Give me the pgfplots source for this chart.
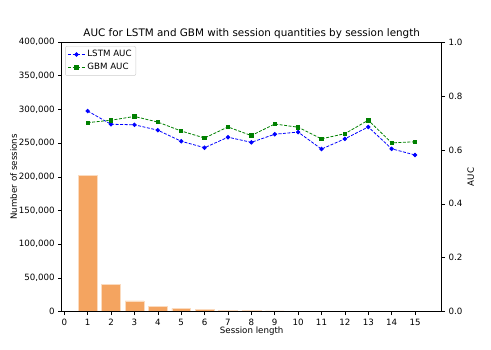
\documentclass[border=0pt]{standalone}
\usepackage{fontspec}
\setmainfont{DejaVu Sans}
\usepackage{pgfplots}
\pgfplotsset{compat=1.18}
\definecolor{barcol}{HTML}{F4A460}
\definecolor{gbmgreen}{rgb}{0,0.5,0}
\begin{document}
\begin{tikzpicture}
\useasboundingbox (-61.7bp,-38.3bp) rectangle (429.3bp,311.7bp);
\pgfplotsset{
  every axis/.append style={
    scale only axis, width=380bp, height=269.7bp, at={(0,0)}, anchor=south west,
    xmin=-0.11, xmax=16.14,
    tick align=outside, major tick length=3.5bp,
    tick style={black, line width=0.6bp},
    axis line style={line width=0.6bp},
    ticklabel style={font=\fontsize{8.7}{10}\selectfont},
    label style={font=\fontsize{8.7}{10}\selectfont},
    /pgf/number format/assume math mode=true,
  }
}
% bars: number of sessions
\begin{axis}[
  axis on top,
  ymin=0, ymax=400000,
  ytick={0,50000,...,400000},
  scaled y ticks=false,
  yticklabel style={/pgf/number format/fixed, /pgf/number format/1000 sep={,}},
  xtick={0,...,15},
  xtick pos=bottom, ytick pos=left,
  xlabel={Session length},
  ylabel={Number of sessions},
  xlabel style={yshift=5.5bp},
  ylabel style={yshift=-5bp},
  title={AUC for LSTM and GBM with session quantities by session length},
  title style={font=\fontsize{10.4}{12}\selectfont, yshift=-6bp},
]
\addplot[ybar, bar width=0.8, fill=barcol, draw=white!60!barcol, line width=0.4bp] coordinates {
  (1,202000) (2,41000) (3,16000) (4,8000) (5,5000) (6,3500) (7,2500) (8,1600)
  (9,1200) (10,500) (11,400) (12,300) (13,300) (14,200) (15,1000)
};
\end{axis}
% lines: AUC
\begin{axis}[
  ymin=0, ymax=1,
  ytick={0,0.2,...,1.0},
  yticklabel style={/pgf/number format/fixed, /pgf/number format/fixed zerofill, /pgf/number format/precision=1},
  axis x line=none,
  axis y line*=right,
  ylabel={AUC},
  ylabel style={yshift=2bp},
  legend style={at={(0.009,0.985)}, anchor=north west, font=\fontsize{8.7}{10}\selectfont,
    draw=black!20, rounded corners=2bp, inner sep=2.3bp, row sep=1bp},
  legend cell align=left,
]
\addplot[blue, line width=0.8bp, dash pattern=on 3bp off 1.5bp, mark=*, mark size=1.8bp, mark options={solid}] coordinates {
  (1,0.744) (2,0.695) (3,0.693) (4,0.673) (5,0.632) (6,0.608) (7,0.647) (8,0.628)
  (9,0.658) (10,0.666) (11,0.603) (12,0.641) (13,0.685) (14,0.604) (15,0.581)
};
\addlegendentry{LSTM AUC}
\addplot[gbmgreen, line width=0.8bp, dash pattern=on 3bp off 1.5bp, mark=square*, mark size=1.7bp, mark options={solid}] coordinates {
  (1,0.701) (2,0.710) (3,0.724) (4,0.703) (5,0.670) (6,0.644) (7,0.685) (8,0.653)
  (9,0.696) (10,0.684) (11,0.641) (12,0.660) (13,0.710) (14,0.626) (15,0.630)
};
\addlegendentry{GBM AUC}
\end{axis}
\end{tikzpicture}
\end{document}
